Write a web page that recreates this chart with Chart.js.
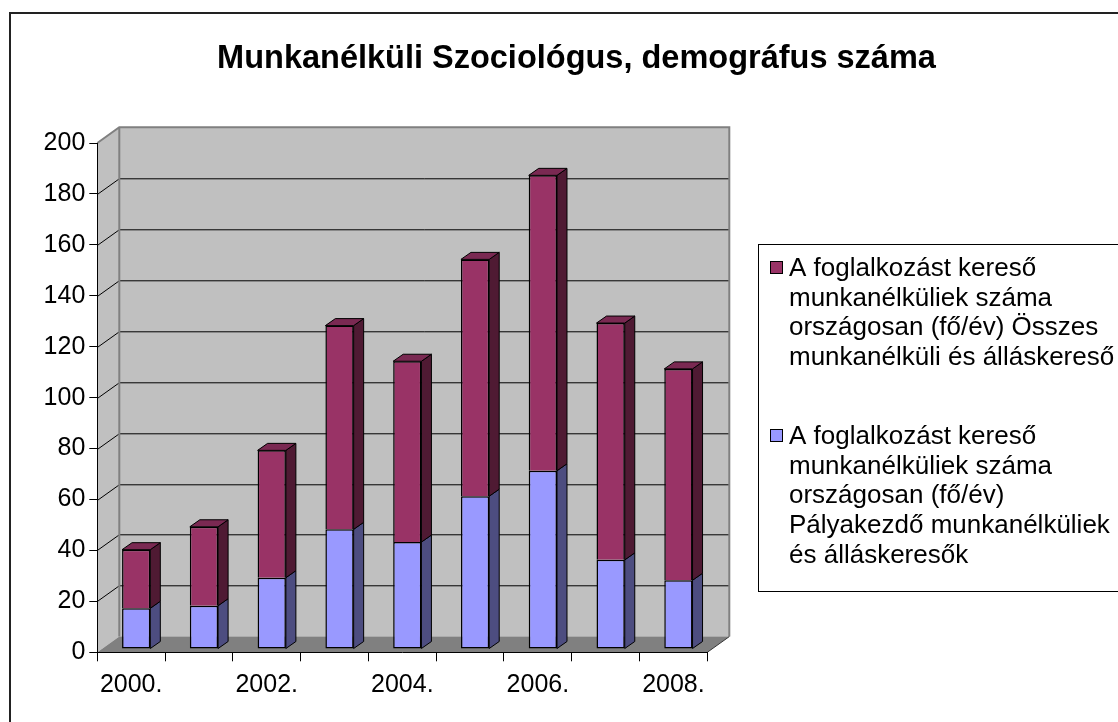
<!DOCTYPE html>
<html>
<head>
<meta charset="utf-8">
<title>Munkanélküli Szociológus, demográfus száma</title>
<script src="https://cdn.jsdelivr.net/npm/chart.js@4/dist/chart.umd.min.js"></script>
<style>
  html, body { margin: 0; padding: 0; background: #fff; }
  #wrap { width: 1118px; height: 722px; }
</style>
</head>
<body>
<div id="wrap"><canvas id="chart" width="1118" height="722"></canvas></div>
<script>
// data
const chartTitle = 'Munkanélküli Szociológus, demográfus száma';
const years = ['2000.', '2001.', '2002.', '2003.', '2004.', '2005.', '2006.', '2007.', '2008.'];
const palyakezdo = [16, 17, 28, 47, 42, 60, 70, 35, 27];   // blue, bottom
const osszes = [23, 31, 50, 80, 71, 93, 116, 93, 83];      // maroon, stacked on top
const yTicks = [0, 20, 40, 60, 80, 100, 120, 140, 160, 180, 200];
const seriesLabels = [
  ['A foglalkozást kereső', 'munkanélküliek száma', 'országosan (fő/év)', 'Pályakezdő munkanélküliek', 'és álláskeresők'],
  ['A foglalkozást kereső', 'munkanélküliek száma', 'országosan (fő/év) Összes', 'munkanélküli és álláskereső']
];

const FONT = '"Liberation Sans", Arial, sans-serif';
const colors = {
  blue: '#9999FF', blueSide: '#4D4D80',
  maroon: '#993366', maroonSide: '#4F1A33', maroonTop: '#7A2952',
  wall: '#C0C0C0', floor: '#808080', edge: '#808080'
};

// 3d look: wall depth and bar offsets (pixels)
const depth = { x: 22, y: -15.7 };
const barShift = { x: 5, y: -3.3 };
const barDepth = { x: 10, y: -7 };

const frame3d = {
  id: 'frame3d',
  beforeDraw(chart) {
    const { ctx, chartArea: a, scales: { y } } = chart;
    ctx.save();
    // outer chart border
    ctx.strokeStyle = '#222';
    ctx.lineWidth = 2;
    ctx.beginPath();
    ctx.moveTo(10, 722); ctx.lineTo(10, 13); ctx.lineTo(1118, 13);
    ctx.stroke();

    const top = y.getPixelForValue(200), bot = y.getPixelForValue(0);
    // back wall
    ctx.fillStyle = colors.wall;
    ctx.fillRect(a.left + depth.x, top + depth.y, a.right - a.left, bot - top);
    // left wall
    ctx.beginPath();
    ctx.moveTo(a.left, top); ctx.lineTo(a.left + depth.x, top + depth.y);
    ctx.lineTo(a.left + depth.x, bot + depth.y); ctx.lineTo(a.left, bot);
    ctx.closePath(); ctx.fill();
    // floor
    ctx.fillStyle = colors.floor;
    ctx.beginPath();
    ctx.moveTo(a.left, bot); ctx.lineTo(a.left + depth.x, bot + depth.y);
    ctx.lineTo(a.right + depth.x, bot + depth.y); ctx.lineTo(a.right, bot);
    ctx.closePath(); ctx.fill();

    // gridlines on the back wall and the left wall
    ctx.strokeStyle = '#000';
    ctx.lineWidth = 1;
    yTicks.forEach(v => {
      if (v === 0 || v === 200) return;
      const py = Math.round(y.getPixelForValue(v)) + 0.5;
      ctx.beginPath();
      ctx.moveTo(a.left, py);
      ctx.lineTo(a.left + depth.x, py + depth.y);
      ctx.lineTo(a.right + depth.x, py + depth.y);
      ctx.stroke();
    });

    // wall edges
    ctx.strokeStyle = colors.edge;
    ctx.lineWidth = 2;
    ctx.beginPath();
    ctx.moveTo(a.left, top);
    ctx.lineTo(a.left + depth.x, top + depth.y);
    ctx.lineTo(a.right + depth.x, top + depth.y);
    ctx.lineTo(a.right + depth.x, bot + depth.y);
    ctx.moveTo(a.left + depth.x, top + depth.y);
    ctx.lineTo(a.left + depth.x, bot + depth.y);
    ctx.stroke();
    // right floor edge
    ctx.strokeStyle = '#333';
    ctx.lineWidth = 1;
    ctx.beginPath();
    ctx.moveTo(a.right, bot); ctx.lineTo(a.right + depth.x, bot + depth.y);
    ctx.stroke();
    ctx.restore();
  },
  beforeDatasetsDraw(chart) {
    chart.ctx.save();
    chart.ctx.translate(barShift.x, barShift.y);
  },
  afterDatasetsDraw(chart) {
    const ctx = chart.ctx;
    const metas = [chart.getDatasetMeta(0), chart.getDatasetMeta(1)];
    const sides = [colors.blueSide, colors.maroonSide];
    ctx.strokeStyle = '#000';
    ctx.lineWidth = 1;
    ctx.lineJoin = 'round';
    metas.forEach((meta, di) => {
      meta.data.forEach((bar, i) => {
        const { x, y, base, width } = bar.getProps(['x', 'y', 'base', 'width'], true);
        const r = x + width / 2, l = x - width / 2;
        ctx.fillStyle = sides[di];
        ctx.beginPath();
        ctx.moveTo(r, y); ctx.lineTo(r + barDepth.x, y + barDepth.y);
        ctx.lineTo(r + barDepth.x, base + barDepth.y); ctx.lineTo(r, base);
        ctx.closePath(); ctx.fill(); ctx.stroke();
        if (di === metas.length - 1) {
          ctx.fillStyle = colors.maroonTop;
          ctx.beginPath();
          ctx.moveTo(l, y); ctx.lineTo(l + barDepth.x, y + barDepth.y);
          ctx.lineTo(r + barDepth.x, y + barDepth.y); ctx.lineTo(r, y);
          ctx.closePath(); ctx.fill(); ctx.stroke();
        }
      });
    });
    ctx.restore();
  },
  afterDraw(chart) {
    // legend box, series listed top series first
    const ctx = chart.ctx;
    ctx.save();
    ctx.strokeStyle = '#000';
    ctx.lineWidth = 1;
    ctx.strokeRect(758.5, 244.5, 500, 347);
    ctx.font = '26px ' + FONT;
    ctx.fillStyle = '#000';
    ctx.textBaseline = 'alphabetic';
    const items = [
      { lines: seriesLabels[1], color: colors.maroon, base: 276 },
      { lines: seriesLabels[0], color: colors.blue, base: 444 }
    ];
    items.forEach(it => {
      ctx.fillStyle = it.color;
      ctx.fillRect(770.5, it.base - 14.5, 12, 12);
      ctx.strokeRect(770.5, it.base - 14.5, 12, 12);
      ctx.fillStyle = '#000';
      it.lines.forEach((t, k) => ctx.fillText(t, 789, it.base + k * 29.7));
    });
    ctx.restore();
  }
};

new Chart(document.getElementById('chart'), {
  type: 'bar',
  data: {
    labels: years,
    datasets: [
      { label: seriesLabels[0].join(' '), data: palyakezdo, backgroundColor: colors.blue,
        borderColor: '#000', borderWidth: 1.5, borderSkipped: false },
      { label: seriesLabels[1].join(' '), data: osszes, backgroundColor: colors.maroon,
        borderColor: '#000', borderWidth: 1.5 }
    ]
  },
  options: {
    responsive: false,
    animation: false,
    layout: { padding: { left: 35, right: 0, top: 0, bottom: 0 } },
    datasets: { bar: { barPercentage: 0.417, categoryPercentage: 1 } },
    plugins: {
      legend: { display: false },
      tooltip: { enabled: false },
      title: {
        display: true, text: chartTitle, color: '#000',
        font: { family: FONT, size: 32.5, weight: 'bold' },
        padding: { top: 40, bottom: 64 }
      }
    },
    scales: {
      x: {
        stacked: true,
        grid: { offset: true, drawOnChartArea: false, color: '#000', tickLength: 9 },
        border: { color: '#000', width: 1 },
        ticks: {
          autoSkip: false, maxRotation: 0, color: '#000', padding: 9,
          font: { family: FONT, size: 25 },
          callback: (v, i) => (i % 2 === 0 ? years[i] : '')
        },
        afterFit: s => { s.height = 69.7; }
      },
      y: {
        stacked: true, min: 0, max: 200,
        afterBuildTicks: s => { s.ticks = yTicks.map(v => ({ value: v })); },
        grid: { drawOnChartArea: false, color: '#000', tickLength: 8 },
        border: { color: '#000', width: 1 },
        ticks: { color: '#000', padding: 4, font: { family: FONT, size: 25 } },
        afterFit: s => { s.width = 62.3; }
      },
      spacer: {
        type: 'linear', position: 'right', display: true,
        grid: { display: false }, border: { display: false }, ticks: { display: false },
        afterFit: s => { s.width = 410.7; }
      }
    }
  },
  plugins: [frame3d]
});
</script>
</body>
</html>
